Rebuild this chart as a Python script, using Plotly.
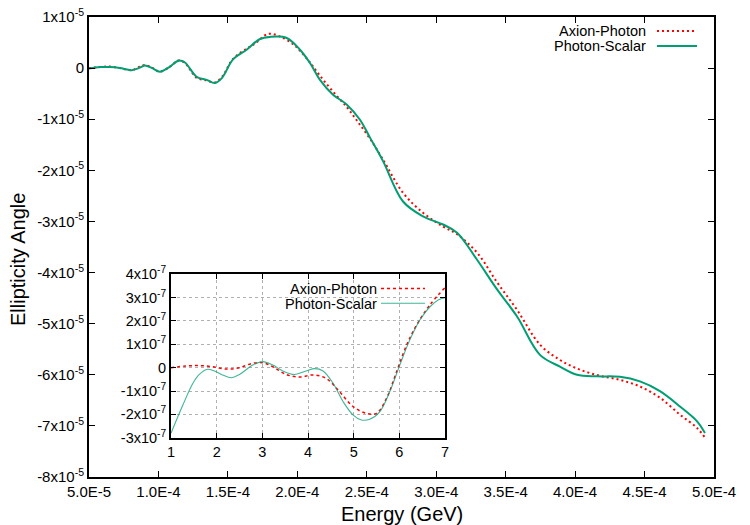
import plotly.graph_objects as go

W, H = 750, 525

# ---------------- data ----------------
# main panel: energy in units of 1e-6 GeV, ellipticity in units of 1e-5
ps_energy = [50.0, 57.9, 65.1, 72.3, 80.7, 86.7, 90.3, 95.4, 101.1, 108.3, 114.7, 119.1,
             127.5, 134.7, 140.7, 145.8, 153.7, 163.5, 173.1, 180.3, 192.3, 201.9, 209.1,
             216.3, 225.7, 235.5, 245.1, 252.3, 261.7, 276.1, 290.5, 304.9, 315.0, 329.4,
             343.8, 358.2, 374.7, 389.1, 401.4, 415.8, 432.3, 446.7, 461.1, 475.5, 487.8, 493.5]
ps_values = [-0.01, 0.02, 0.02, 0.0, -0.04, 0.01, 0.05, 0.0, -0.07, 0.03, 0.15, 0.11,
             -0.17, -0.23, -0.29, -0.19, 0.17, 0.36, 0.57, 0.61, 0.59, 0.36, 0.10,
             -0.23, -0.52, -0.71, -1.01, -1.36, -1.82, -2.61, -2.90, -3.06, -3.22, -3.75,
             -4.33, -4.86, -5.61, -5.84, -6.00, -6.03, -6.04, -6.13, -6.32, -6.62, -6.91, -7.14]

ap_energy = [50.0, 57.9, 65.1, 72.3, 80.7, 86.7, 90.3, 95.4, 101.1, 108.3, 114.7, 119.1,
             127.5, 134.7, 140.7, 145.8, 153.7, 163.5, 169.5, 178.9, 187.5, 196.9, 201.9,
             209.1, 216.3, 225.7, 235.8, 243.0, 252.3, 261.7, 276.1, 290.5, 304.9, 315.0,
             329.4, 343.8, 358.2, 374.7, 389.1, 403.5, 417.9, 432.3, 446.7, 461.1, 475.5,
             487.8, 493.5]
ap_values = [0.0, 0.02, 0.03, 0.0, -0.04, 0.03, 0.06, 0.01, -0.07, 0.03, 0.15, 0.10,
             -0.19, -0.24, -0.28, -0.17, 0.18, 0.38, 0.48, 0.67, 0.62, 0.47, 0.34,
             0.11, -0.15, -0.46, -0.77, -1.03, -1.38, -1.79, -2.44, -2.83, -3.10, -3.25,
             -3.61, -4.19, -4.73, -5.41, -5.71, -5.90, -6.02, -6.10, -6.23, -6.45, -6.78,
             -7.04, -7.23]

# inset: x in arbitrary units, values in units of 1e-7
inset_ps_x = [1.0, 1.26, 1.48, 1.62, 1.80, 1.95, 2.13, 2.32, 2.50, 2.79, 3.01, 3.23, 3.45,
              3.71, 3.96, 4.15, 4.33, 4.55, 4.77, 4.99, 5.17, 5.35, 5.57, 5.79, 6.01, 6.23,
              6.45, 6.67, 6.85, 7.0]
inset_ps_y = [-2.81, -1.60, -0.67, -0.29, -0.07, -0.14, -0.31, -0.43, -0.29, 0.11, 0.26,
              0.11, -0.14, -0.29, -0.14, -0.04, -0.14, -0.67, -1.46, -2.03, -2.24, -2.21,
              -1.89, -1.03, 0.11, 1.19, 2.04, 2.61, 2.90, 3.00]
inset_ap_x = [1.0, 1.33, 1.62, 1.91, 2.21, 2.50, 2.79, 3.01, 3.23, 3.52, 3.82, 4.11, 4.40,
              4.69, 4.99, 5.28, 5.50, 5.72, 5.94, 6.16, 6.38, 6.67, 7.0]
inset_ap_y = [0.0, 0.07, 0.09, 0.04, -0.06, 0.0, 0.19, 0.21, 0.04, -0.29, -0.40, -0.31,
              -0.46, -1.03, -1.67, -1.96, -1.96, -1.31, -0.17, 0.97, 1.83, 2.69, 3.43]

main_xticks = [5e-5, 1e-4, 1.5e-4, 2e-4, 2.5e-4, 3e-4, 3.5e-4, 4e-4, 4.5e-4, 5e-4]
main_xticklabels = ["5.0E-5", "1.0E-4", "1.5E-4", "2.0E-4", "2.5E-4", "3.0E-4",
                    "3.5E-4", "4.0E-4", "4.5E-4", "5.0E-4"]
main_ytick_mult = [1, 0, -1, -2, -3, -4, -5, -6, -7, -8]
inset_ytick_mult = [4, 3, 2, 1, 0, -1, -2, -3]
inset_xticks = [1, 2, 3, 4, 5, 6, 7]

series_names = ["Axion-Photon", "Photon-Scalar"]
RED = "#ff0000"
GREEN = "#009e73"
FONT = "Liberation Sans, Arial, Helvetica, sans-serif"


def sci(m, e):
    return "0" if m == 0 else f"{m}x10<sup>{e}</sup>"


def px(x):
    return x / W


def py(y):
    return 1 - y / H


fig = go.Figure()
fig.add_trace(go.Scatter(x=[e * 1e-6 for e in ap_energy], y=[v * 1e-5 for v in ap_values],
                         mode="lines", line=dict(color=RED, width=2, dash="2px,3px", shape="spline"),
                         xaxis="x", yaxis="y", showlegend=False))
fig.add_trace(go.Scatter(x=[e * 1e-6 for e in ps_energy], y=[v * 1e-5 for v in ps_values],
                         mode="lines", line=dict(color=GREEN, width=2, shape="spline"),
                         xaxis="x", yaxis="y", showlegend=False))
fig.add_trace(go.Scatter(x=inset_ap_x, y=[v * 1e-7 for v in inset_ap_y],
                         mode="lines", line=dict(color=RED, width=1.5, dash="3px,3px", shape="spline"),
                         xaxis="x2", yaxis="y2", showlegend=False))
fig.add_trace(go.Scatter(x=inset_ps_x, y=[v * 1e-7 for v in inset_ps_y],
                         mode="lines", line=dict(color=GREEN, width=1.1, shape="spline"),
                         opacity=0.75, xaxis="x2", yaxis="y2", showlegend=False))

axis_common = dict(showline=True, linecolor="black", linewidth=2, mirror="ticks",
                   ticks="inside", tickcolor="black", zeroline=False, automargin=False)

fig.update_layout(
    width=W, height=H, margin=dict(l=0, r=0, t=0, b=0, autoexpand=False),
    paper_bgcolor="white", plot_bgcolor="white",
    font=dict(family=FONT, size=14, color="black"),
    xaxis=dict(domain=[px(89), px(714)], range=[5e-5, 5e-4], tickvals=main_xticks,
               ticktext=main_xticklabels, showgrid=False, ticklen=6, anchor="y",
               tickfont=dict(family=FONT, size=15, color="black"), **axis_common),
    yaxis=dict(domain=[py(477), py(17)], range=[-8e-5, 1e-5],
               tickvals=[m * 1e-5 for m in main_ytick_mult],
               ticktext=[sci(m, -5) for m in main_ytick_mult], showgrid=False, ticklen=6,
               anchor="x", tickfont=dict(family=FONT, size=15, color="black"), **axis_common),
    xaxis2=dict(domain=[px(171), px(445)], range=[1, 7], tickvals=inset_xticks,
                ticktext=[str(t) for t in inset_xticks], showgrid=True, gridcolor="#b0b0b0",
                griddash="dot", gridwidth=1, ticklen=5, anchor="y2",
                tickfont=dict(family=FONT, size=14.5, color="black"), **axis_common),
    yaxis2=dict(domain=[py(437.7), py(274.3)], range=[-3e-7, 4e-7],
                tickvals=[m * 1e-7 for m in inset_ytick_mult],
                ticktext=[sci(m, -7) for m in inset_ytick_mult], showgrid=True,
                gridcolor="#b0b0b0", griddash="dot", gridwidth=1, ticklen=5, anchor="x2",
                tickfont=dict(family=FONT, size=14.5, color="black"), **axis_common),
)

annotations = [
    dict(text="Energy (GeV)", x=px(401.5), y=py(514), xref="paper", yref="paper",
         showarrow=False, xanchor="center", yanchor="middle", font=dict(size=20)),
    dict(text="Ellipticity Angle", x=px(18), y=py(260), xref="paper", yref="paper",
         showarrow=False, textangle=-90, xanchor="center", yanchor="middle", font=dict(size=20)),
]
shapes = []
# main legend
for name, yc, col, dash in [(series_names[0], 31.0, RED, "2px,3px"), (series_names[1], 46.0, GREEN, "solid")]:
    annotations.append(dict(text=name, x=px(647), y=py(yc), xref="paper", yref="paper",
                            showarrow=False, xanchor="right", yanchor="middle", height=13,
                            borderpad=0, font=dict(size=14.5)))
    shapes.append(dict(type="line", xref="paper", yref="paper", x0=px(657), x1=px(697),
                       y0=py(yc), y1=py(yc), line=dict(color=col, width=2, dash=dash)))
# inset legend
for name, yc, col, dash, wdt in [(series_names[0], 288.5, RED, "3px,3px", 1.5),
                                 (series_names[1], 303.3, GREEN, "solid", 1.1)]:
    annotations.append(dict(text=name, x=px(377.5), y=py(yc), xref="paper", yref="paper",
                            showarrow=False, xanchor="right", yanchor="middle", height=13,
                            borderpad=0, font=dict(size=14.5)))
    shapes.append(dict(type="line", xref="paper", yref="paper", x0=px(381), x1=px(425),
                       y0=py(yc), y1=py(yc), line=dict(color=col, width=wdt, dash=dash),
                       opacity=0.75 if col == GREEN else 1))

fig.update_layout(annotations=annotations, shapes=shapes)
fig.write_html("out.html")
